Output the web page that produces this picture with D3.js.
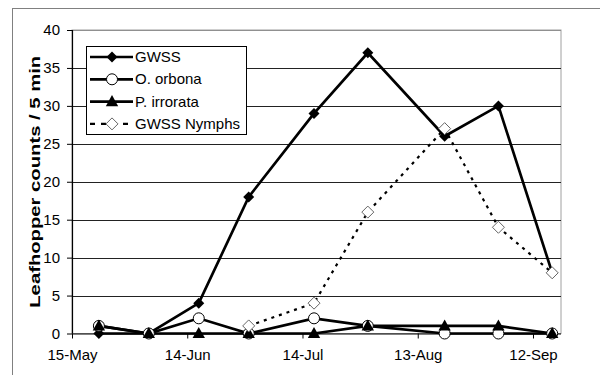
<!DOCTYPE html>
<html><head><meta charset="utf-8">
<script src="https://cdn.jsdelivr.net/npm/d3@7"></script>
<style>body{margin:0;background:#fff}svg{display:block}</style>
</head><body><svg id="c" width="600" height="375"></svg>
<script>
// ---- data ----
const dates = ["2002-05-22","2002-06-04","2002-06-17","2002-06-30","2002-07-17","2002-07-31","2002-08-20","2002-09-03","2002-09-17"];
const gwss = [0,0,4,18,29,37,26,30,8];
const orbona = [1,0,2,0,2,1,0,0,0];
const irrorata = [1,0,0,0,0,1,1,1,0];
const nymphs = [null,null,null,1,4,16,27,14,8];
const seriesNames = ["GWSS","O. orbona","P. irrorata","GWSS Nymphs"];
const xTickDates = ["2002-05-15","2002-06-14","2002-07-14","2002-08-13","2002-09-12"];
const xTickLabels = ["15-May","14-Jun","14-Jul","13-Aug","12-Sep"];
const yTicks = [0,5,10,15,20,25,30,35,40];
const yLabel = "Leafhopper counts / 5 min";

const parse = d3.utcParse("%Y-%m-%d");
const svg = d3.select("#c");
const FONT = "Liberation Sans, Arial, sans-serif";
const L = 72, R = 561, T = 30, B = 333.5;
const x0 = parse("2002-05-15");
const x1 = d3.utcDay.offset(x0, 127);
const x = d3.scaleUtc().domain([x0, d3.utcHour.offset(x1, 7)]).range([L, R]);
const y = d3.scaleLinear().domain([0, 40]).range([B, T]);

// outer border
svg.append("rect").attr("x", 12.5).attr("y", 8.5).attr("width", 700).attr("height", 500)
  .attr("fill", "#fff").attr("stroke", "#808080").attr("stroke-width", 1);

// plot area border (gray)
svg.append("rect").attr("x", L).attr("y", T).attr("width", R - L).attr("height", B - T)
  .attr("fill", "none").attr("stroke", "#a0a0a0").attr("stroke-width", 1);

// gridlines
svg.append("g").selectAll("line").data(yTicks.filter(v => v > 0)).join("line")
  .attr("x1", L).attr("x2", R)
  .attr("y1", d => Math.round(y(d)) + 0.5).attr("y2", d => Math.round(y(d)) + 0.5)
  .attr("stroke", d => d === 40 ? "#909090" : "#222").attr("stroke-width", 1);

// axes
const yAxis = d3.axisLeft(y).tickValues(yTicks).tickSize(5).tickPadding(7);
const gy = svg.append("g").attr("transform", `translate(${L},0)`).call(yAxis);
const xAxis = d3.axisBottom(x).tickValues(xTickDates.map(parse))
  .tickFormat((d, i) => xTickLabels[i]).tickSize(5).tickPadding(11);
const gx = svg.append("g").attr("transform", `translate(0,${B})`).call(xAxis);
[gx, gy].forEach(g => {
  g.select(".domain").attr("stroke", "#000").attr("stroke-width", 1.2);
  g.selectAll(".tick line").attr("stroke", "#000");
  g.selectAll("text").attr("font-family", FONT)
    .attr("font-size", 15).attr("fill", "#000");
});
gy.select(".domain").attr("d", `M0.5,${T}V${B}`);
gx.select(".domain").attr("d", `M${L},0.5H${R}`);

// y label
svg.append("text").attr("transform", `translate(40,${(T + B) / 2}) rotate(-90)`)
  .attr("text-anchor", "middle").attr("font-family", FONT)
  .attr("font-weight", "bold").attr("font-size", 15.5)
  .attr("textLength", 252).attr("lengthAdjust", "spacingAndGlyphs").text(yLabel);

// series
const pts = arr => dates.map((d, i) => ({ x: parse(d), v: arr[i] }));
const line = d3.line().defined(d => d.v !== null).x(d => x(d.x)).y(d => y(d.v));
const diamond = s => `M0,${-s}L${s},0L0,${s}L${-s},0Z`;
const tri = s => `M0,${-s}L${s * 0.95},${s * 0.7}L${-s * 0.95},${s * 0.7}Z`;

const series = [
  { data: gwss, dash: null, w: 2.7, marker: g => g.append("path").attr("d", diamond(5.5)).attr("fill", "#000") },
  { data: orbona, dash: null, w: 2.7, marker: g => g.append("circle").attr("r", 5.5).attr("fill", "#fff").attr("stroke", "#000").attr("stroke-width", 1) },
  { data: irrorata, dash: null, w: 2.7, marker: g => g.append("path").attr("d", tri(6.5)).attr("fill", "#000") },
  { data: nymphs, dash: "3,5", w: 2.2, marker: g => g.append("path").attr("d", diamond(6)).attr("fill", "#fff").attr("stroke", "#666").attr("stroke-width", 1) }
];

series.forEach(s => {
  const p = pts(s.data);
  svg.append("path").datum(p).attr("d", line).attr("fill", "none")
    .attr("stroke", "#000").attr("stroke-width", s.w)
    .attr("stroke-dasharray", s.dash).attr("stroke-linejoin", "miter");
});
series.forEach(s => {
  pts(s.data).filter(d => d.v !== null).forEach(d => {
    const g = svg.append("g").attr("transform", `translate(${x(d.x)},${y(d.v)})`);
    s.marker(g);
  });
});

// legend
const lg = svg.append("g").attr("transform", "translate(86,46)");
lg.append("rect").attr("x", 0.5).attr("y", 0.5).attr("width", 160).attr("height", 88)
  .attr("fill", "#fff").attr("stroke", "#000").attr("stroke-width", 1);
seriesNames.forEach((n, i) => {
  const yy = 11 + i * 22.3;
  const s = series[i];
  lg.append("line").attr("x1", 4).attr("x2", 47).attr("y1", yy).attr("y2", yy)
    .attr("stroke", "#000").attr("stroke-width", s.w).attr("stroke-dasharray", s.dash ? "5,6" : null);
  const g = lg.append("g").attr("transform", `translate(26,${yy})`);
  s.marker(g);
  lg.append("text").attr("x", 49).attr("y", yy + 5).attr("font-family", FONT)
    .attr("font-size", 15).text(n);
});
</script></body></html>
